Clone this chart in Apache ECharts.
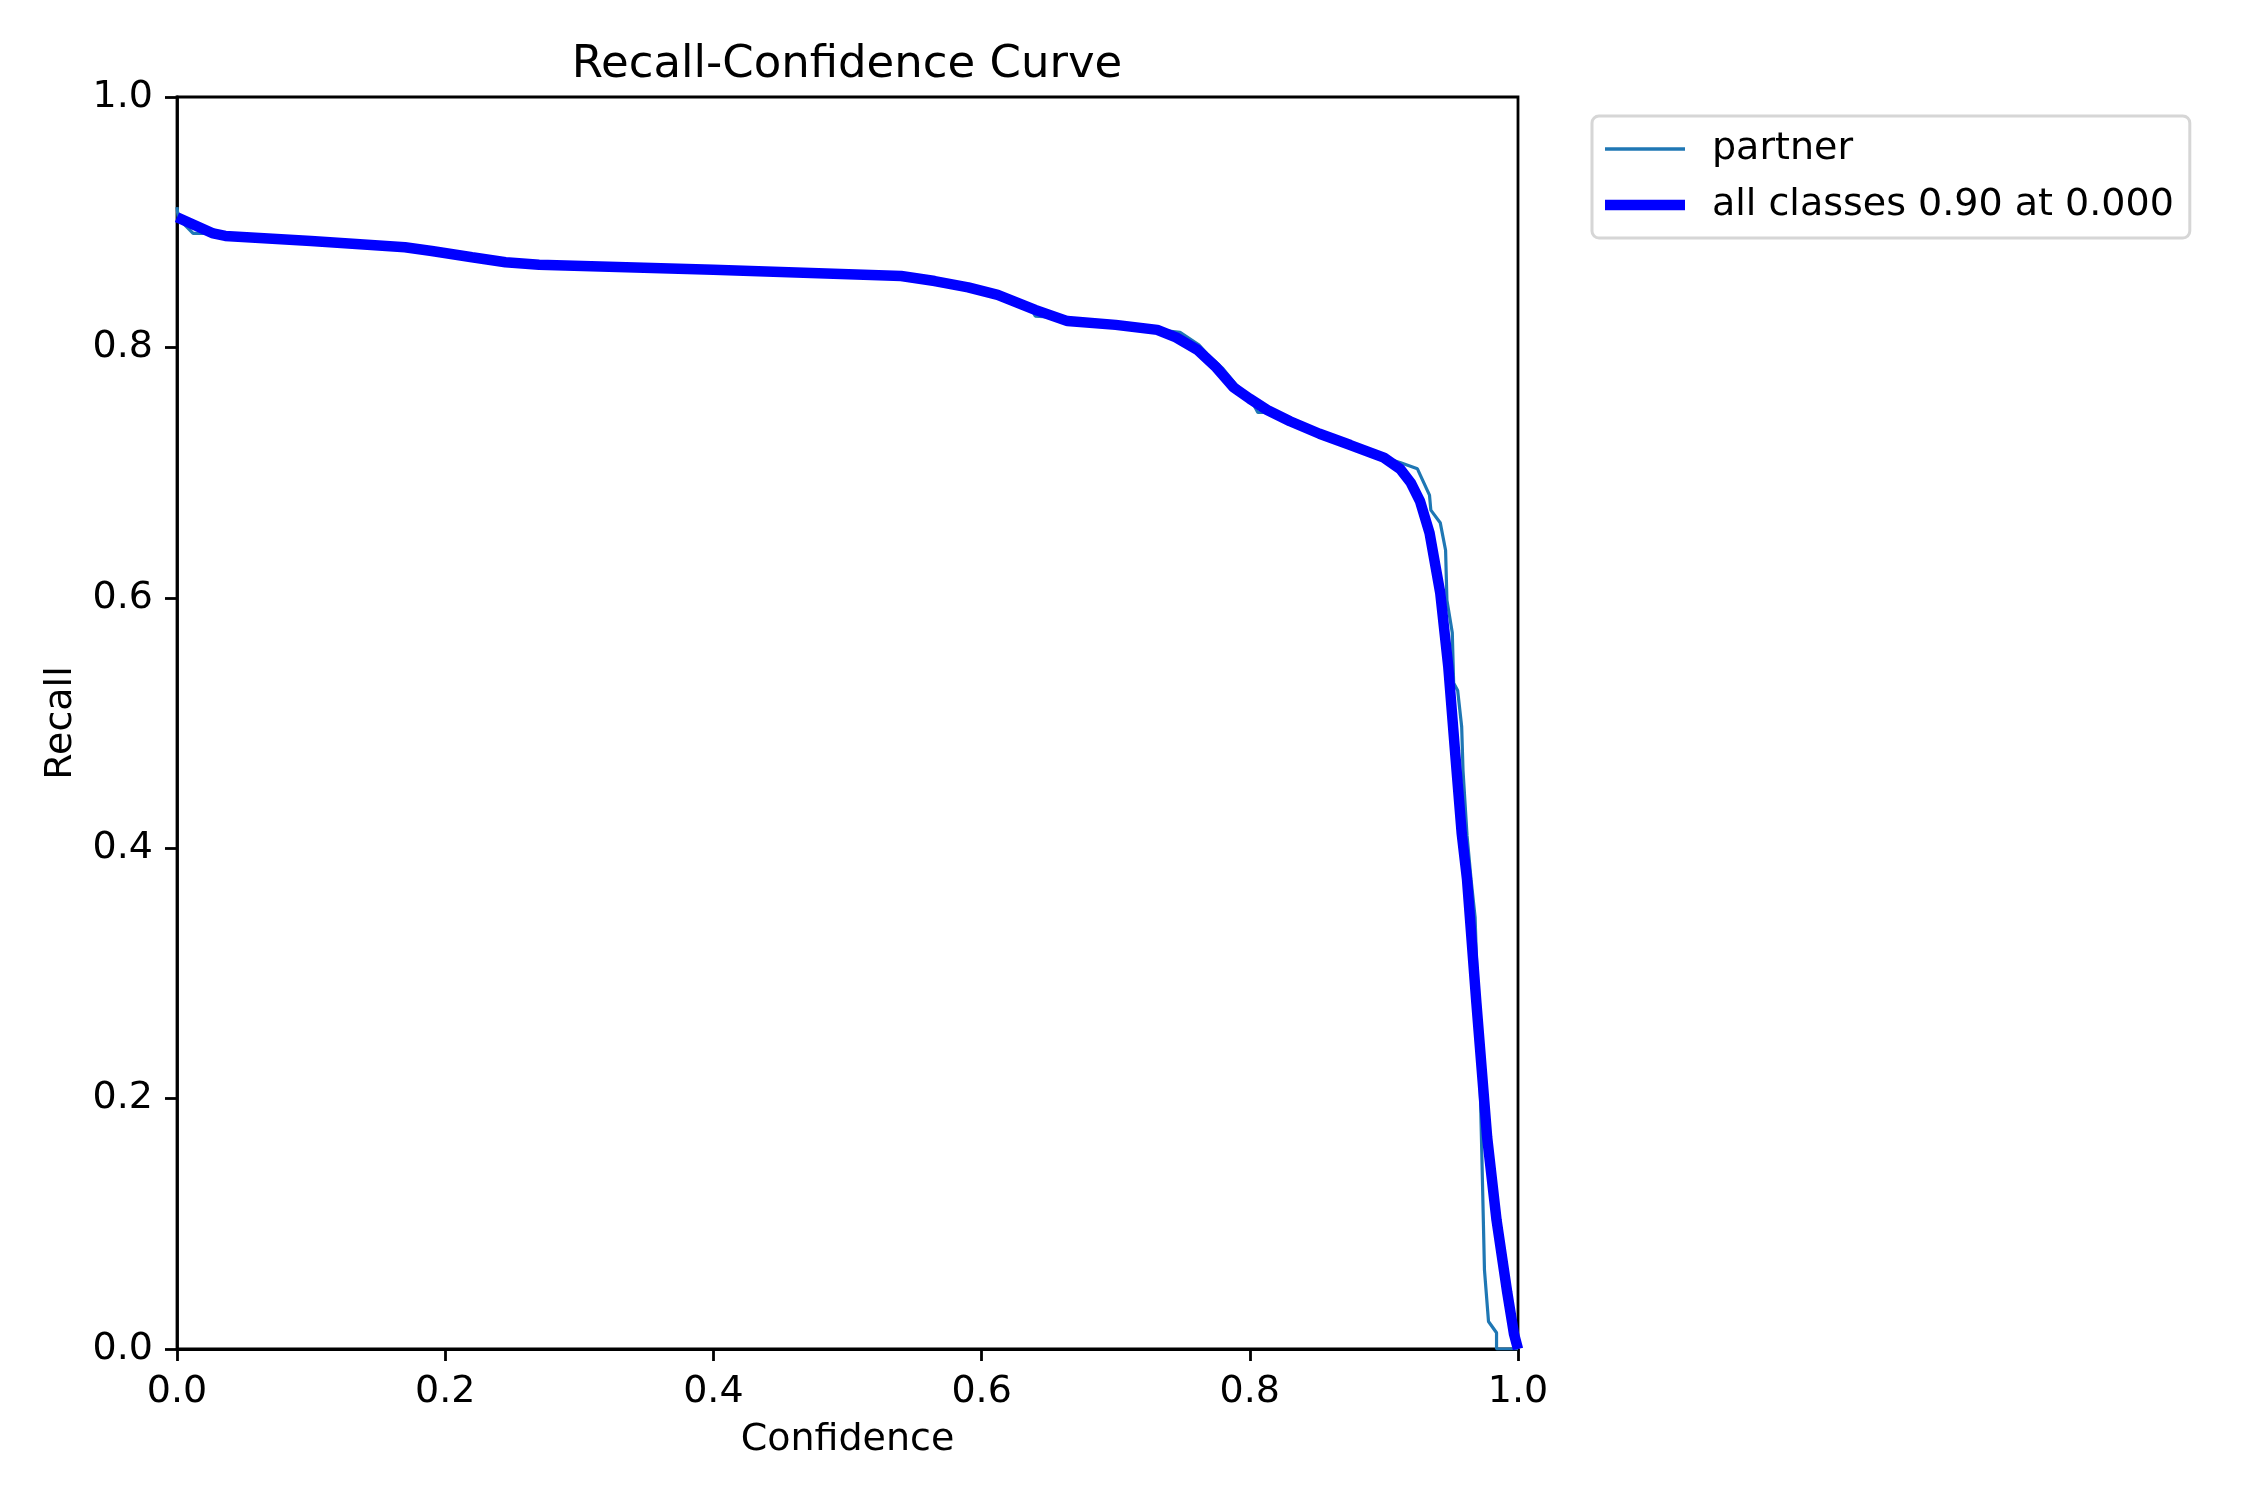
<!DOCTYPE html>
<html>
<head>
<meta charset="utf-8">
<title>Recall-Confidence Curve</title>
<script src="https://cdn.jsdelivr.net/npm/echarts@6/dist/echarts.min.js"></script>
<style>
  html, body { margin: 0; padding: 0; background: #fff; }
  #chart { width: 2250px; height: 1500px; }
</style>
</head>
<body>
<div id="chart"></div>
<script>
// values
var xTicks = [0, 0.2, 0.4, 0.6, 0.8, 1.0]
var yTicks = [0, 0.2, 0.4, 0.6, 0.8, 1.0]

var partnerConf = [0, 0.001, 0.012, 0.024, 0.036, 0.10, 0.17, 0.19, 0.22, 0.245, 0.27, 0.40, 0.54, 0.565, 0.59, 0.612, 0.638, 0.640, 0.655, 0.664, 0.70, 0.731, 0.748, 0.762, 0.768, 0.78, 0.79, 0.80, 0.806, 0.815, 0.830, 0.852, 0.875, 0.90, 0.912, 0.925, 0.934, 0.935, 0.942, 0.946, 0.947, 0.951, 0.952, 0.955, 0.958, 0.959, 0.962, 0.965, 0.968, 0.970, 0.972, 0.973, 0.975, 0.978, 0.984, 0.984, 1.0]
var partnerRecall = [0.912, 0.903, 0.891, 0.891, 0.889, 0.885, 0.880, 0.877, 0.872, 0.868, 0.866, 0.862, 0.857, 0.853, 0.848, 0.842, 0.829, 0.825, 0.824, 0.821, 0.818, 0.814, 0.812, 0.802, 0.795, 0.783, 0.770, 0.760, 0.748, 0.748, 0.742, 0.732, 0.722, 0.712, 0.708, 0.703, 0.682, 0.670, 0.660, 0.638, 0.598, 0.572, 0.532, 0.526, 0.497, 0.462, 0.410, 0.375, 0.345, 0.280, 0.201, 0.157, 0.063, 0.022, 0.013, 0.0, 0.0]

var allConf = [0, 0.027, 0.036, 0.10, 0.17, 0.19, 0.22, 0.245, 0.27, 0.40, 0.54, 0.565, 0.59, 0.612, 0.64, 0.664, 0.70, 0.731, 0.745, 0.761, 0.775, 0.788, 0.80, 0.813, 0.830, 0.852, 0.875, 0.90, 0.912, 0.920, 0.927, 0.934, 0.942, 0.948, 0.953, 0.958, 0.962, 0.969, 0.977, 0.984, 0.992, 0.997, 1.0]
var allRecall = [0.904, 0.891, 0.889, 0.885, 0.880, 0.877, 0.872, 0.868, 0.866, 0.862, 0.857, 0.853, 0.848, 0.842, 0.830, 0.821, 0.818, 0.814, 0.808, 0.798, 0.784, 0.768, 0.759, 0.750, 0.741, 0.731, 0.722, 0.712, 0.703, 0.692, 0.677, 0.652, 0.604, 0.545, 0.478, 0.412, 0.375, 0.276, 0.169, 0.103, 0.045, 0.012, 0.0]

var seriesNames = ['partner', 'all classes 0.90 at 0.000']

function pairs(xs, ys) {
  var out = []
  for (var i = 0; i < xs.length; i++) out.push([xs[i], ys[i]])
  return out
}

var font = 'DejaVu Sans'
var chart = echarts.init(document.getElementById('chart'), null, { renderer: 'canvas' })

var axisCommon = {
  type: 'value',
  min: xTicks[0],
  max: xTicks[xTicks.length - 1],
  interval: 0.2,
  axisLine: { show: true, lineStyle: { color: '#000', width: 2.8 } },
  axisTick: { show: true, inside: false, length: 12, lineStyle: { color: '#000', width: 2.8 } },
  axisLabel: {
    color: '#000', fontSize: 38, fontFamily: font, margin: 24,
    formatter: function (v) { return v.toFixed(1) }
  },
  splitLine: { show: false },
  nameLocation: 'middle',
  nameTextStyle: { color: '#000', fontSize: 38, fontFamily: font }
}

chart.setOption({
  animation: false,
  backgroundColor: '#fff',
  title: {
    text: 'Recall-Confidence Curve',
    left: 842,
    top: 38,
    textAlign: 'center',
    textStyle: { color: '#000', fontSize: 45, fontWeight: 'normal', fontFamily: font }
  },
  grid: {
    left: 177, top: 97, width: 1341, height: 1252,
    show: true, borderColor: '#000', borderWidth: 2.8, backgroundColor: 'transparent'
  },
  xAxis: Object.assign({}, axisCommon, { name: 'Confidence', nameGap: 72 }),
  yAxis: Object.assign({}, axisCommon, {
    min: yTicks[0], max: yTicks[yTicks.length - 1],
    name: 'Recall', nameGap: 97, nameRotate: 90
  }),
  legend: {
    orient: 'vertical',
    left: 1592,
    top: 116,
    padding: [14, 16, 14, 13],
    itemGap: 18,
    itemWidth: 80,
    itemHeight: 14,
    symbolKeepAspect: true,
    borderColor: '#d6d6d6',
    borderWidth: 3,
    borderRadius: 7,
    backgroundColor: '#fff',
    textStyle: { color: '#000', fontSize: 38, fontFamily: font, lineHeight: 38, padding: [0, 0, 0, 22] },
    data: [
      { name: seriesNames[0], icon: 'path://M0,0H80V3.4H0Z', itemStyle: { color: '#1f77b4' } },
      { name: seriesNames[1], icon: 'path://M0,0H80V10.5H0Z', itemStyle: { color: '#0000ff' } }
    ]
  },
  series: [
    {
      name: seriesNames[0],
      type: 'line',
      data: pairs(partnerConf, partnerRecall),
      showSymbol: false,
      symbol: 'none',
      lineStyle: { color: '#1f77b4', width: 3.2 },
      itemStyle: { color: '#1f77b4' },
      z: 2
    },
    {
      name: seriesNames[1],
      type: 'line',
      data: pairs(allConf, allRecall),
      showSymbol: false,
      symbol: 'none',
      lineStyle: { color: '#0000ff', width: 10.5 },
      itemStyle: { color: '#0000ff' },
      z: 3
    }
  ]
})
</script>
</body>
</html>
